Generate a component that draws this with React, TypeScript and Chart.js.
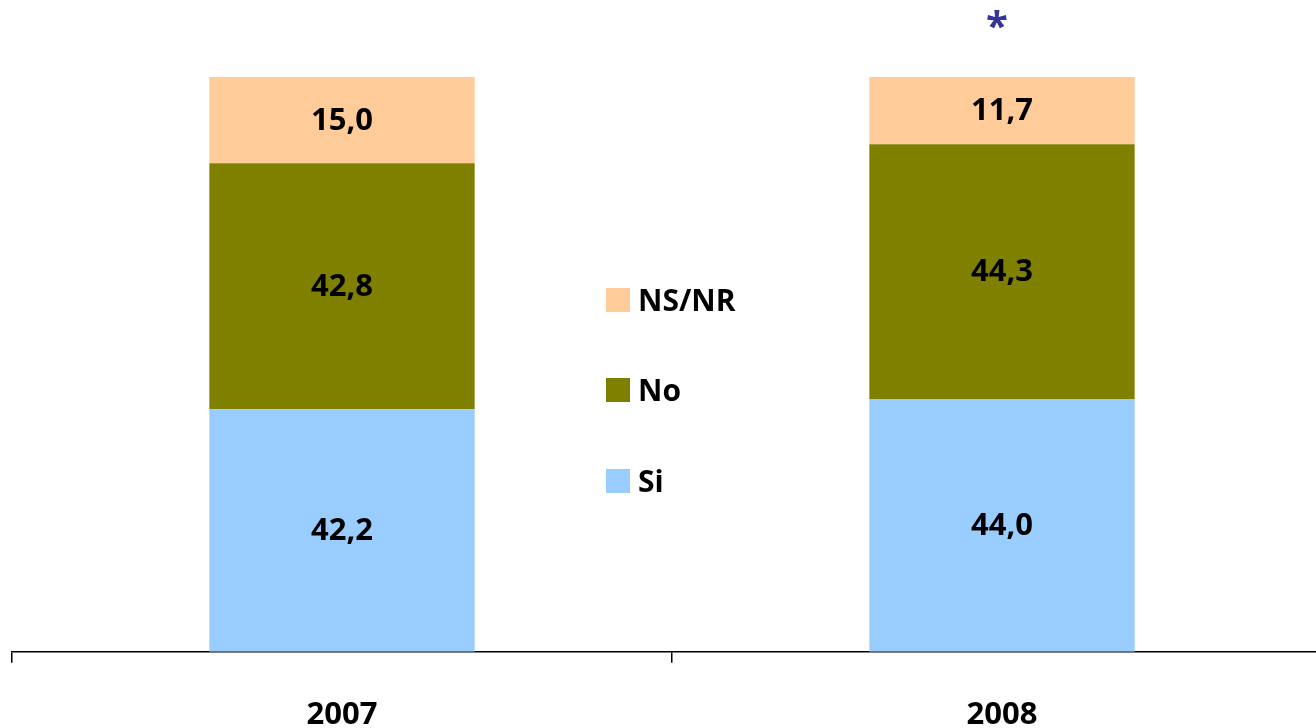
import React, { useEffect, useRef } from "react";
import { Chart, registerables } from "chart.js";

Chart.register(...registerables);

const categories = ["2007", "2008"];
const siValues = [42.2, 44.0];
const noValues = [42.8, 44.3];
const nsnrValues = [15.0, 11.7];
const seriesNames = ["Si", "No", "NS/NR"];
const seriesColors = ["#99CCFF", "#808000", "#FFCC99"];
const markerText = "*";

const FONT = "'Open Sans', sans-serif";

const valueLabelsPlugin = {
  id: "valueLabels",
  afterDatasetsDraw(chart: any) {
    const ctx = chart.ctx;
    ctx.save();
    ctx.font = `bold 31px ${FONT}`;
    ctx.fillStyle = "#000";
    ctx.textAlign = "center";
    ctx.textBaseline = "middle";
    chart.data.datasets.forEach((ds: any, di: number) => {
      const meta = chart.getDatasetMeta(di);
      meta.data.forEach((el: any, i: number) => {
        const v = ds.data[i] as number;
        const yc = (el.y + el.base) / 2;
        ctx.fillText(v.toFixed(1).replace(".", ","), el.x, yc + 1);
      });
    });
    // asterisk above second bar
    const meta = chart.getDatasetMeta(chart.data.datasets.length - 1);
    const el = meta.data[1];
    ctx.fillStyle = "#333399";
    ctx.font = `bold 40px ${FONT}`;
    ctx.fillText(markerText, el.x - 5, 29);
    ctx.restore();
  },
};

const centerLegendPlugin = {
  id: "centerLegend",
  afterDraw(chart: any) {
    const ctx = chart.ctx;
    const area = chart.chartArea;
    const cx = (area.left + area.right) / 2;
    const boxLeft = cx - 66;
    const rows = [300, 390, 481];
    ctx.save();
    ctx.textAlign = "left";
    ctx.textBaseline = "middle";
    ctx.font = `bold 30px ${FONT}`;
    const order = [2, 1, 0];
    order.forEach((si, r) => {
      const yc = rows[r];
      ctx.fillStyle = seriesColors[si];
      ctx.fillRect(boxLeft, yc - 12, 24, 24);
      ctx.fillStyle = "#000";
      ctx.fillText(seriesNames[si], boxLeft + 32, yc + 2);
    });
    ctx.restore();
  },
};

export default function App() {
  const ref = useRef<HTMLCanvasElement | null>(null);
  useEffect(() => {
    if (!ref.current) return;
    const chart = new Chart(ref.current, {
      type: "bar",
      data: {
        labels: categories,
        datasets: [
          { label: seriesNames[0], data: siValues, backgroundColor: seriesColors[0] },
          { label: seriesNames[1], data: noValues, backgroundColor: seriesColors[1] },
          { label: seriesNames[2], data: nsnrValues, backgroundColor: seriesColors[2] },
        ],
      },
      options: {
        responsive: false,
        animation: false,
        barPercentage: 0.402,
        categoryPercentage: 1,
        layout: { padding: { left: 12, right: 8, top: 77, bottom: 0 } },
        plugins: {
          legend: { display: false },
          tooltip: { enabled: false },
          title: { display: false },
        },
        scales: {
          x: {
            stacked: true,
            offset: true,
            grid: {
              display: true,
              drawOnChartArea: false,
              drawTicks: true,
              tickLength: 11,
              color: "#000",
              lineWidth: 1.5,
              offset: true,
            },
            border: { display: true, color: "#000", width: 1.5 },
            ticks: {
              color: "#000",
              font: { family: FONT, size: 31, weight: "bold" },
              padding: 34,
              maxRotation: 0,
            },
          },
          y: {
            stacked: true,
            min: 0,
            max: 100,
            display: false,
          },
        },
      } as any,
      plugins: [valueLabelsPlugin, centerLegendPlugin],
    });
    return () => chart.destroy();
  }, []);
  return (
    <div
      style={{
        position: "fixed",
        left: 0,
        top: 0,
        width: 1316,
        height: 728,
        overflow: "hidden",
        background: "#fff",
      }}
    >
      <canvas ref={ref} width={1340} height={768} style={{ display: "block" }} />
    </div>
  );
}
